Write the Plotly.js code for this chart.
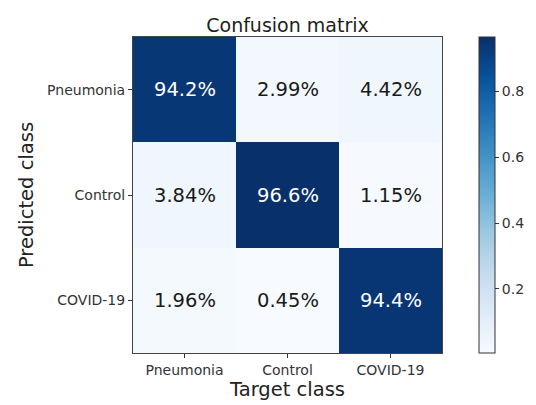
<!DOCTYPE html>
<html>
<head>
<meta charset="utf-8">
<script src="https://cdn.plot.ly/plotly-3.0.1.min.js"></script>
<style>html,body{margin:0;padding:0;background:#fff;}</style>
</head>
<body>
<div id="chart" style="width:536px;height:405px;"></div>
<script>
const targetClasses = ["Pneumonia", "Control", "COVID-19"];
const predictedClasses = ["Pneumonia", "Control", "COVID-19"];
const rowPneumonia = [0.942, 0.0299, 0.0442];
const rowControl = [0.0384, 0.966, 0.0115];
const rowCovid = [0.0196, 0.0045, 0.944];
const cellLabels = [["94.2%", "2.99%", "4.42%"], ["3.84%", "96.6%", "1.15%"], ["1.96%", "0.45%", "94.4%"]];
const colorbarTicks = [0.2, 0.4, 0.6, 0.8];

const z = [rowPneumonia, rowControl, rowCovid];
const zmin = Math.min(...z.flat());
const zmax = Math.max(...z.flat());
const thresh = (zmin + zmax) / 2;

const blues = [
  [0.0, "#f7fbff"], [0.125, "#deebf7"], [0.25, "#c6dbef"], [0.375, "#9ecae1"],
  [0.5, "#6baed6"], [0.625, "#4292c6"], [0.75, "#2171b5"], [0.875, "#08519c"], [1.0, "#08306b"]
];

const FONT = "DejaVu Sans";
const annotations = [];
z.forEach((row, i) => row.forEach((v, j) => {
  annotations.push({
    x: targetClasses[j], y: predictedClasses[i], text: cellLabels[i][j],
    showarrow: false, xref: "x", yref: "y",
    font: {family: FONT, size: 19.5, color: v > thresh ? "#ffffff" : "#1a1a1a"}
  });
}));

const trace = {
  type: "heatmap", x: targetClasses, y: predictedClasses, z: z,
  zmin: zmin, zmax: zmax, colorscale: blues, showscale: true, hoverinfo: "skip",
  xgap: 0, ygap: 0,
  colorbar: {
    x: 1.12, xanchor: "left", xref: "paper", y: 0.5, yanchor: "middle", len: 1, lenmode: "fraction",
    xpad: 0, ypad: 0,
    thickness: 16, thicknessmode: "pixels", outlinewidth: 1, outlinecolor: "#333",
    tickvals: colorbarTicks, ticktext: colorbarTicks.map(t => t.toFixed(1)),
    ticks: "outside", ticklen: 4, tickcolor: "#333",
    tickfont: {family: FONT, size: 14, color: "#333"}
  }
};

const layout = {
  width: 536, height: 405,
  margin: {l: 133, r: 94, t: 37, b: 52, pad: 0, autoexpand: false},
  paper_bgcolor: "#fff", plot_bgcolor: "#fff",
  title: {text: "Confusion matrix", x: 0.5, xref: "paper", xanchor: "center", y: 1, yref: "paper", yanchor: "bottom", pad: {b: 5}, font: {family: FONT, size: 19, color: "#222"}},
  xaxis: {
    type: "category", showgrid: false, zeroline: false, showline: true, mirror: true, linecolor: "#444", linewidth: 1,
    ticks: "outside", ticklen: 4, tickcolor: "#333", automargin: false,
    tickfont: {family: FONT, size: 14, color: "#333"},
    title: {text: "Target class", standoff: 2, font: {family: FONT, size: 19.5, color: "#222"}}
  },
  yaxis: {
    type: "category", autorange: "reversed", showgrid: false, zeroline: false, showline: true, mirror: true, linecolor: "#444", linewidth: 1,
    ticks: "outside", ticklen: 4, tickcolor: "#333", automargin: false,
    tickfont: {family: FONT, size: 14, color: "#333"},
    title: {text: "Predicted class", standoff: 8, font: {family: FONT, size: 19.5, color: "#222"}}
  },
  annotations: annotations
};

Plotly.newPlot("chart", [trace], layout, {displayModeBar: false, staticPlot: true});
</script>
</body>
</html>
